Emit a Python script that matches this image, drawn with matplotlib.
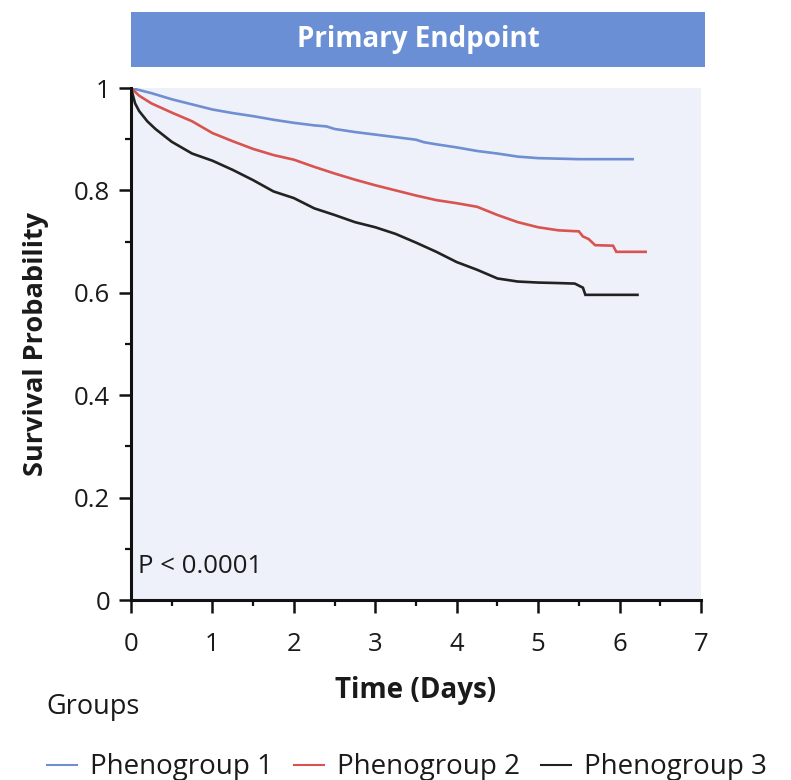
import matplotlib
matplotlib.use("Agg")
import matplotlib.pyplot as plt
from matplotlib.ticker import MultipleLocator
from matplotlib.lines import Line2D

plt.rcParams['font.family'] = ['Open Sans', 'DejaVu Sans']

# ---- data ----
groups = ["Phenogroup 1", "Phenogroup 2", "Phenogroup 3"]
colors = ["#6f8fd2", "#d9534f", "#222222"]

t1 = [0, 0.25, 0.5, 0.75, 1.0, 1.25, 1.5, 1.75, 2.0, 2.25, 2.4, 2.5, 2.75, 3.0,
      3.25, 3.5, 3.6, 3.75, 4.0, 4.25, 4.5, 4.75, 5.0, 5.25, 5.5, 6.16]
s1 = [1.0, 0.99, 0.978, 0.968, 0.958, 0.951, 0.945, 0.938, 0.932, 0.927, 0.925,
      0.92, 0.914, 0.909, 0.904, 0.899, 0.894, 0.89, 0.884, 0.877, 0.872, 0.866,
      0.863, 0.862, 0.861, 0.861]

t2 = [0, 0.1, 0.25, 0.5, 0.75, 1.0, 1.25, 1.5, 1.75, 2.0, 2.25, 2.5, 2.75, 3.0,
      3.25, 3.5, 3.75, 4.0, 4.25, 4.5, 4.75, 5.0, 5.25, 5.5, 5.55, 5.62, 5.7,
      5.92, 5.96, 6.32]
s2 = [1.0, 0.985, 0.97, 0.952, 0.935, 0.912, 0.896, 0.881, 0.869, 0.86, 0.846,
      0.833, 0.821, 0.81, 0.8, 0.79, 0.781, 0.775, 0.768, 0.752, 0.738, 0.728,
      0.722, 0.72, 0.71, 0.705, 0.693, 0.692, 0.68, 0.68]

t3 = [0, 0.05, 0.1, 0.2, 0.3, 0.5, 0.75, 1.0, 1.25, 1.5, 1.75, 2.0, 2.25, 2.5,
      2.75, 3.0, 3.25, 3.5, 3.75, 4.0, 4.25, 4.5, 4.75, 5.0, 5.25, 5.45, 5.55,
      5.58, 6.22]
s3 = [1.0, 0.97, 0.955, 0.935, 0.92, 0.895, 0.872, 0.858, 0.84, 0.82, 0.798,
      0.785, 0.765, 0.752, 0.738, 0.728, 0.715, 0.698, 0.68, 0.66, 0.645, 0.628,
      0.622, 0.62, 0.619, 0.618, 0.61, 0.596, 0.596]

xticks = [0, 1, 2, 3, 4, 5, 6, 7]
yticks = [0, 0.2, 0.4, 0.6, 0.8, 1]
ytick_labels = ["0", "0.2", "0.4", "0.6", "0.8", "1"]
title = "Primary Endpoint"
p_text = "P < 0.0001"

# ---- figure ----
W, H = 791, 780
fig = plt.figure(figsize=(W / 100, H / 100), dpi=100)

def fx(px):
    return px / W

def fy(py):
    return 1 - py / H

ax = fig.add_axes([fx(131), fy(600), fx(701) - fx(131), fy(88) - fy(600)])
ax.set_facecolor("#eef1f9")

series = [(t1, s1), (t2, s2), (t3, s3)]
handles = []
for (t, s), c, g in zip(series, colors, groups):
    ax.plot(t, s, color=c, lw=1.9, label=g, solid_joinstyle="miter")
    handles.append(Line2D([0], [0], color=c, lw=1.5))

ax.set_xlim(0, 7)
ax.set_ylim(0, 1)
ax.set_xticks(xticks)
ax.set_yticks(yticks)
ax.set_yticklabels(ytick_labels)
ax.xaxis.set_minor_locator(MultipleLocator(0.5))
ax.yaxis.set_minor_locator(MultipleLocator(0.1))
for side in ["top", "right"]:
    ax.spines[side].set_visible(False)
for side in ["left", "bottom"]:
    ax.spines[side].set_linewidth(2.2)
    ax.spines[side].set_color("#111111")
ax.tick_params(axis="both", which="major", length=9, width=1.8, labelsize=18.5,
               color="#111111", labelcolor="#1a1a1a")
ax.tick_params(axis="x", which="major", pad=14)
ax.tick_params(axis="y", which="major", pad=6)
ax.tick_params(axis="both", which="minor", length=4, width=1.6, color="#111111")

ax.set_xlabel("Time (Days)", fontsize=20, fontweight="bold", labelpad=14,
              color="#1a1a1a")
ax.set_ylabel("Survival Probability", fontsize=19.5, fontweight="bold",
              labelpad=18, color="#1a1a1a")

ax.text(0.012, 0.065, p_text, transform=ax.transAxes, fontsize=18.5,
        ha="left", va="center", color="#1a1a1a")

# strip title
sax = fig.add_axes([fx(131), fy(67), fx(705) - fx(131), fy(12) - fy(67)])
sax.set_facecolor("#6b8fd5")
sax.set_xticks([])
sax.set_yticks([])
for sp in sax.spines.values():
    sp.set_visible(False)
sax.text(0.5, 0.5, title, transform=sax.transAxes, color="white", fontsize=20,
         fontweight="bold", ha="center", va="center")

# legend
leg = fig.legend(handles, groups, title="Groups", loc="lower left",
                 bbox_to_anchor=(fx(44), fy(784)), ncol=3, frameon=False,
                 fontsize=20, title_fontsize=19.5, handlelength=1.1,
                 handletextpad=0.45, columnspacing=0.75, alignment="left",
                 borderaxespad=0.0, borderpad=0.1, labelspacing=1.15)
for txt in leg.get_texts():
    txt.set_color("#1a1a1a")
leg.get_title().set_color("#1a1a1a")

fig.savefig("out.png", dpi=100)
